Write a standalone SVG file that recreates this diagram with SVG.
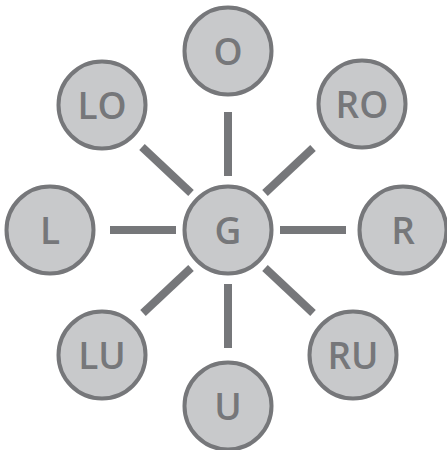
<svg xmlns="http://www.w3.org/2000/svg" width="447" height="450" viewBox="0 0 447 450">
<style>
.n circle{fill:#c8c9cb;stroke:#76777a;stroke-width:4}
.n text{font-family:"Open Sans","Liberation Sans",sans-serif;font-weight:600;font-size:37px;fill:#76777a;text-anchor:middle}
#connectors line{stroke:#76777a;stroke-width:8}
</style>
<rect width="447" height="450" fill="#fff"/>
<g id="connectors">
<line x1="228" y1="112" x2="228" y2="176"/>
<line x1="228" y1="284" x2="228" y2="348"/>
<line x1="110" y1="230" x2="176" y2="230"/>
<line x1="280" y1="230" x2="346" y2="230"/>
<line x1="142" y1="147" x2="191" y2="193"/>
<line x1="313" y1="148" x2="265" y2="193"/>
<line x1="143" y1="313" x2="191" y2="268"/>
<line x1="313" y1="313" x2="265" y2="268"/>
</g>
<g id="G" class="n"><circle cx="228" cy="230" r="43.5"/><text x="228" y="243.5">G</text></g>
<g id="O" class="n"><circle cx="228" cy="51" r="43.5"/><text x="228" y="64.5">O</text></g>
<g id="LO" class="n"><circle cx="102" cy="105" r="43.5"/><text x="102" y="118.5">LO</text></g>
<g id="RO" class="n"><circle cx="362" cy="104" r="43.5"/><text x="362" y="117.5">RO</text></g>
<g id="L" class="n"><circle cx="50" cy="230" r="43.5"/><text x="50" y="243.5">L</text></g>
<g id="R" class="n"><circle cx="403" cy="230" r="43.5"/><text x="403" y="243.5">R</text></g>
<g id="LU" class="n"><circle cx="102" cy="355" r="43.5"/><text x="102" y="368.5">LU</text></g>
<g id="RU" class="n"><circle cx="353" cy="355" r="43.5"/><text x="353" y="368.5">RU</text></g>
<g id="U" class="n"><circle cx="228" cy="406" r="43.5"/><text x="228" y="419.5">U</text></g>
</svg>
